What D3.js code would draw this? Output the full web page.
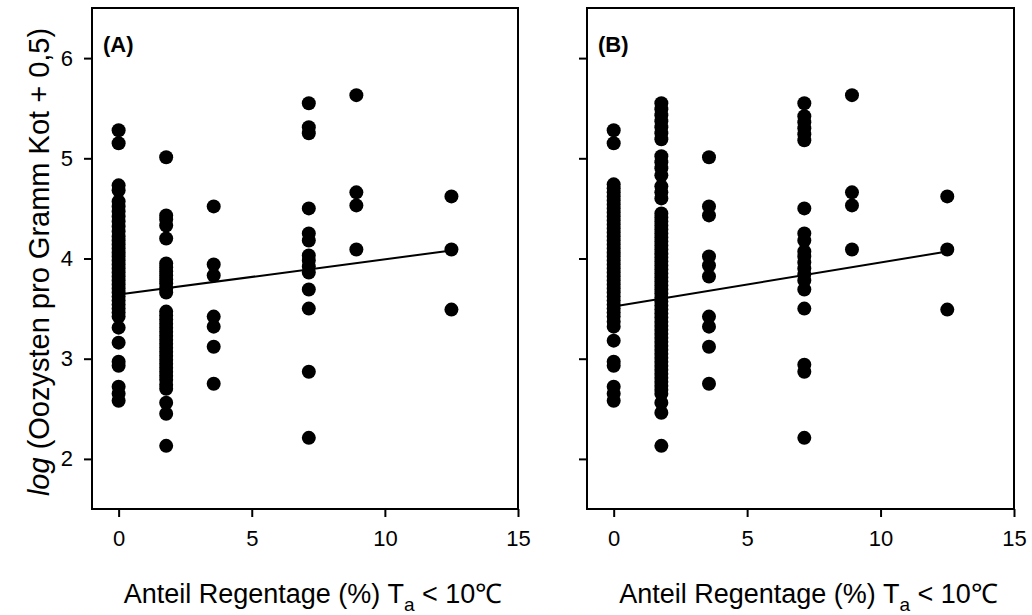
<!DOCTYPE html>
<html>
<head>
<meta charset="utf-8">
<script src="https://cdn.jsdelivr.net/npm/d3@7"></script>
<style>
  body { margin: 0; background: #fff; }
  svg { display: block; }
  text { font-family: "Liberation Sans", Arial, sans-serif; fill: #000; }
</style>
</head>
<body>
<svg id="chart" width="1032" height="615"></svg>
<script>
// Rain-day share (%) categories: 0/56, 1/56, 2/56, 4/56, 5/56, 7/56
const xLevels = [0, 1.786, 3.571, 7.143, 8.929, 12.5];

// Panel A: log oocyst counts per x level
const panelA_x0 = [5.28, 5.15, 4.73, 4.68, 4.57, 4.52, 4.47, 4.42, 4.37, 4.32, 4.27, 4.22, 4.18, 4.14, 4.10, 4.06, 4.02, 3.98, 3.94, 3.90, 3.86, 3.82, 3.78, 3.74, 3.70, 3.66, 3.62, 3.58, 3.54, 3.50, 3.46, 3.42, 3.31, 3.16, 2.97, 2.93, 2.72, 2.65, 2.58];
const panelA_x1 = [5.01, 4.43, 4.39, 4.33, 4.20, 3.95, 3.91, 3.87, 3.83, 3.79, 3.75, 3.70, 3.66, 3.47, 3.43, 3.39, 3.35, 3.31, 3.27, 3.23, 3.19, 3.15, 3.11, 3.07, 3.03, 2.99, 2.95, 2.91, 2.87, 2.83, 2.79, 2.74, 2.70, 2.56, 2.45, 2.13];
const panelA_x2 = [4.52, 3.94, 3.83, 3.42, 3.32, 3.12, 2.75];
const panelA_x3 = [5.55, 5.31, 5.25, 4.50, 4.25, 4.18, 4.03, 3.98, 3.92, 3.86, 3.69, 3.50, 2.87, 2.21];
const panelA_x4 = [5.63, 4.66, 4.53, 4.09];
const panelA_x5 = [4.62, 4.09, 3.49];

// Panel B: log oocyst counts per x level
const panelB_x0 = [5.28, 5.15, 4.74, 4.70, 4.66, 4.62, 4.58, 4.54, 4.50, 4.46, 4.42, 4.38, 4.34, 4.30, 4.26, 4.22, 4.18, 4.14, 4.10, 4.06, 4.02, 3.98, 3.94, 3.90, 3.86, 3.82, 3.78, 3.74, 3.70, 3.66, 3.62, 3.58, 3.54, 3.50, 3.46, 3.42, 3.37, 3.32, 3.18, 2.97, 2.93, 2.72, 2.65, 2.58];
const panelB_x1 = [5.55, 5.49, 5.43, 5.37, 5.31, 5.25, 5.19, 5.02, 4.96, 4.90, 4.83, 4.72, 4.66, 4.60, 4.45, 4.41, 4.37, 4.33, 4.29, 4.25, 4.21, 4.17, 4.13, 4.09, 4.05, 4.01, 3.97, 3.93, 3.89, 3.85, 3.81, 3.77, 3.73, 3.69, 3.65, 3.61, 3.57, 3.53, 3.49, 3.45, 3.41, 3.37, 3.33, 3.29, 3.25, 3.21, 3.17, 3.13, 3.09, 3.05, 3.01, 2.97, 2.93, 2.89, 2.85, 2.81, 2.77, 2.73, 2.69, 2.65, 2.56, 2.46, 2.13];
const panelB_x2 = [5.01, 4.52, 4.43, 4.02, 3.93, 3.82, 3.42, 3.32, 3.12, 2.75];
const panelB_x3 = [5.55, 5.42, 5.36, 5.30, 5.24, 5.18, 4.50, 4.25, 4.18, 4.07, 4.02, 3.96, 3.90, 3.84, 3.78, 3.69, 3.50, 2.94, 2.87, 2.21];
const panelB_x4 = [5.63, 4.66, 4.53, 4.09];
const panelB_x5 = [4.62, 4.09, 3.49];

// Fitted regression lines: [x start, y start, x end, y end]
const fitA = [0, 3.64, 12.5, 4.08];
const fitB = [0, 3.52, 12.5, 4.07];

const xTicks = [0, 5, 10, 15];
const yTicks = [2, 3, 4, 5, 6];
const panelLabels = ["(A)", "(B)"];

const panels = [
  { label: panelLabels[0], cols: [panelA_x0, panelA_x1, panelA_x2, panelA_x3, panelA_x4, panelA_x5], fit: fitA, left: 92, right: 518, yLabels: true },
  { label: panelLabels[1], cols: [panelB_x0, panelB_x1, panelB_x2, panelB_x3, panelB_x4, panelB_x5], fit: fitB, left: 587, right: 1014, yLabels: false }
];

const svg = d3.select("#chart");
const plotTop = 8, plotBottom = 509;
const y = d3.scaleLinear().domain([1.5, 6.5]).range([plotBottom, plotTop]);

panels.forEach(p => {
  const x = d3.scaleLinear().domain([-1, 15]).range([p.left, p.right]);
  const g = svg.append("g");

  // points
  const pts = [];
  p.cols.forEach((vals, i) => vals.forEach(v => pts.push([xLevels[i], v])));
  g.selectAll("circle").data(pts).join("circle")
    .attr("cx", d => x(d[0]))
    .attr("cy", d => y(d[1]))
    .attr("r", 7)
    .attr("fill", "#000");

  // regression line
  g.append("line")
    .attr("x1", x(p.fit[0])).attr("y1", y(p.fit[1]))
    .attr("x2", x(p.fit[2])).attr("y2", y(p.fit[3]))
    .attr("stroke", "#000").attr("stroke-width", 2);

  // x axis
  const xa = g.append("g").attr("transform", `translate(0,${plotBottom})`)
    .call(d3.axisBottom(x).tickValues(xTicks).tickSize(8).tickSizeOuter(0).tickPadding(13));
  xa.select(".domain").remove();
  xa.selectAll("line").attr("stroke-width", 2);
  xa.selectAll("text").style("font-size", "22px");

  // y axis
  const ya = g.append("g").attr("transform", `translate(${p.left},0)`)
    .call(d3.axisLeft(y).tickValues(yTicks).tickSize(8).tickSizeOuter(0).tickPadding(11)
      .tickFormat(p.yLabels ? d3.format("d") : () => ""));
  ya.select(".domain").remove();
  ya.selectAll("line").attr("stroke-width", 2);
  ya.selectAll("text").style("font-size", "22px");

  // frame
  g.append("rect")
    .attr("x", p.left).attr("y", plotTop)
    .attr("width", p.right - p.left).attr("height", plotBottom - plotTop)
    .attr("fill", "none").attr("stroke", "#000").attr("stroke-width", 2);

  // panel label
  g.append("text")
    .attr("x", p.left + 11).attr("y", 52)
    .style("font-size", "22px").style("font-weight", "bold")
    .text(p.label);

  // x axis title
  const t = g.append("text")
    .attr("x", (p.left + p.right) / 2 + 8).attr("y", 603)
    .attr("text-anchor", "middle")
    .style("font-size", "27px");
  t.append("tspan").text("Anteil Regentage (%) T");
  t.append("tspan").attr("dy", 8).style("font-size", "19px").text("a");
  t.append("tspan").attr("dy", -8).text(" < 10℃");
});

// y axis title
const yt = svg.append("text")
  .attr("transform", "translate(49,262) rotate(-90)")
  .attr("text-anchor", "middle")
  .style("font-size", "29px");
yt.append("tspan").style("font-style", "italic").text("log");
yt.append("tspan").text(" (Oozysten pro Gramm Kot + 0,5)");
</script>
</body>
</html>
